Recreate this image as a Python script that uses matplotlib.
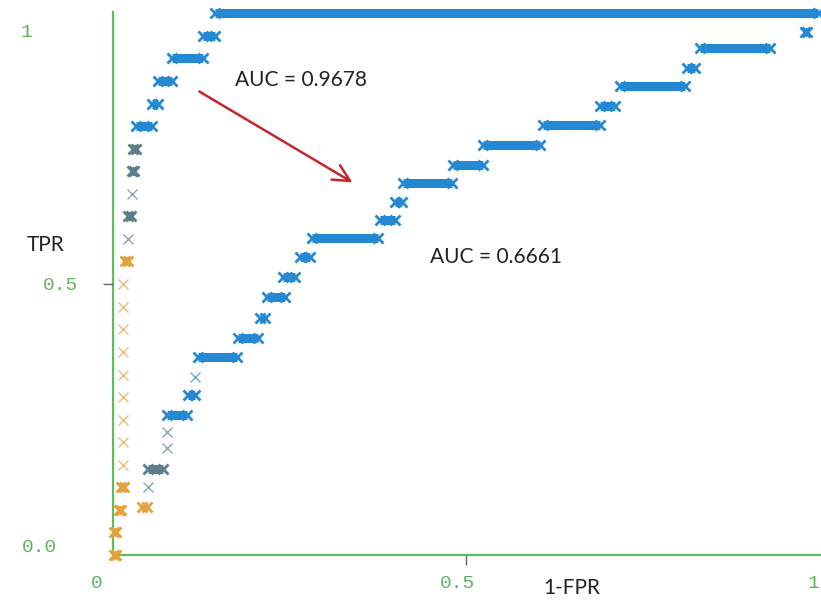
import matplotlib.pyplot as plt

# ROC 1 (AUC = 0.9678): TPR level with FPR range covered at that level
tpr_1 = [0.0, 0.042, 0.083, 0.125, 0.167, 0.208, 0.25, 0.292, 0.333, 0.375,
         0.417, 0.458, 0.5, 0.542, 0.583, 0.625, 0.667, 0.708, 0.75, 0.792,
         0.833, 0.875, 0.917, 0.958, 1.0]
fpr_1_lo = [0.001, 0.001, 0.008, 0.011, 0.014, 0.014, 0.014, 0.014, 0.014, 0.014,
            0.014, 0.014, 0.014, 0.017, 0.021, 0.021, 0.027, 0.027, 0.029, 0.032,
            0.055, 0.064, 0.084, 0.128, 0.145]
fpr_1_hi = [0.005, 0.005, 0.012, 0.015, 0.014, 0.014, 0.014, 0.014, 0.014, 0.014,
            0.014, 0.014, 0.014, 0.021, 0.021, 0.026, 0.027, 0.030, 0.032, 0.055,
            0.064, 0.083, 0.128, 0.145, 1.0]

# ROC 2 (AUC = 0.6661)
tpr_2 = [0.089, 0.125, 0.159, 0.197, 0.227, 0.258, 0.295, 0.328, 0.365, 0.400,
         0.437, 0.476, 0.513, 0.550, 0.585, 0.618, 0.651, 0.686, 0.720, 0.756,
         0.793, 0.828, 0.865, 0.899, 0.935, 0.965]
fpr_2_lo = [0.041, 0.050, 0.050, 0.077, 0.077, 0.077, 0.106, 0.116, 0.121, 0.177,
            0.209, 0.218, 0.241, 0.265, 0.282, 0.379, 0.400, 0.411, 0.482, 0.525,
            0.610, 0.691, 0.719, 0.814, 0.833, 0.981]
fpr_2_hi = [0.048, 0.050, 0.071, 0.077, 0.077, 0.105, 0.116, 0.116, 0.176, 0.206,
            0.216, 0.244, 0.258, 0.279, 0.376, 0.400, 0.410, 0.481, 0.525, 0.606,
            0.691, 0.712, 0.811, 0.826, 0.932, 0.984]

auc_1 = 0.9678
auc_2 = 0.6661

ORANGE = '#e3a23c'
GRAY = '#5b7f89'
BLUE = '#2489d2'
GREEN = '#5dbe5d'


def draw_roc(ax, tpr, lo, hi, cut1, cut2):
    for t, a, b in zip(tpr, lo, hi):
        c = ORANGE if t < cut1 else (GRAY if t < cut2 else BLUE)
        if b > a:
            # many thresholds at the same TPR -> a solid band of x marks
            ax.plot([a, b], [t, t], color=c, lw=6.5, solid_capstyle='butt', clip_on=False)
            ax.plot([a, b], [t, t], 'x', color=c, ms=7.5, mew=2, clip_on=False)
        else:
            ax.plot(a, t, 'x', color=c, ms=7, mew=1, alpha=0.7, clip_on=False)


fig = plt.figure(figsize=(8.21, 6.01), dpi=100)
ax = fig.add_axes([0.1376, 0.0765, 0.8624, 0.9035])

draw_roc(ax, tpr_2, fpr_2_lo, fpr_2_hi, 0.1, 0.24)
draw_roc(ax, tpr_1, fpr_1_lo, fpr_1_hi, 0.56, 0.77)

ax.set_xlim(0, 1.004)
ax.set_ylim(0, 1.002)
for s in ['top', 'right']:
    ax.spines[s].set_visible(False)
for s in ['left', 'bottom']:
    ax.spines[s].set_color(GREEN)
    ax.spines[s].set_linewidth(1.6)
    ax.spines[s].set_zorder(0)

ax.set_xticks([0.5])
ax.set_yticks([0.5])
ax.set_xticklabels([''])
ax.set_yticklabels([''])
ax.tick_params(direction='out', length=7, width=1, color='#666666')

mono = dict(family='Liberation Mono', fontsize=14, color='#5fb35f', ha='center', va='center')
ax.text(-0.122, 0.965, '1', **mono)
ax.text(-0.075, 0.498, '0.5', **mono)
ax.text(-0.104, 0.013, '0.0', **mono)
ax.text(-0.023, -0.052, '0', **mono)
ax.text(0.488, -0.052, '0.5', **mono)
ax.text(0.994, -0.052, '1', clip_on=False, **mono)

lab = dict(family='Lato', fontsize=15, color='#222222', va='center')
ax.text(-0.095, 0.572, 'TPR', ha='center', **lab)
ax.text(0.651, -0.061, '1-FPR', ha='center', **lab)
ax.text(0.173, 0.876, 'AUC = %.4f' % auc_1, ha='left', **lab)
ax.text(0.450, 0.550, 'AUC = %.4f' % auc_2, ha='left', **lab)

ax.annotate('', xy=(0.343, 0.685), xytext=(0.119, 0.858),
            arrowprops=dict(arrowstyle='->', color='#c3272e', lw=1.8, mutation_scale=30))

fig.savefig('out.png', dpi=100)
